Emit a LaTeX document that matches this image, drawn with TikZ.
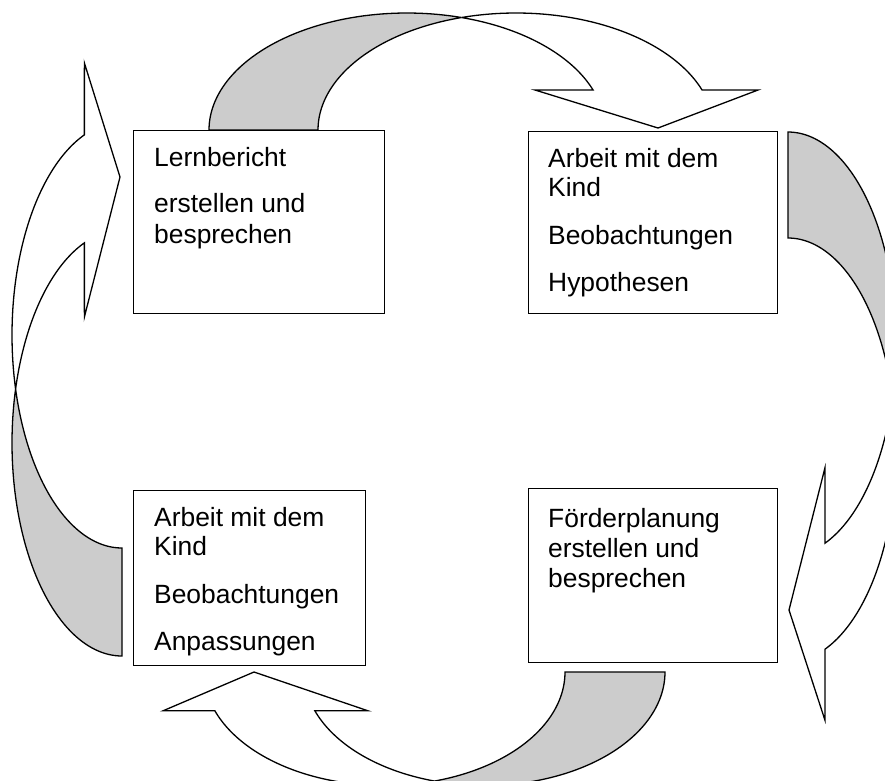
\documentclass[tikz,border=0pt]{standalone}
\usepackage{fontspec}
\setmainfont{Liberation Sans}
\definecolor{bandgrey}{RGB}{204,204,204}
\begin{document}
\begin{tikzpicture}[x=1pt,y=-1pt,
  back/.style={fill=bandgrey,draw=black,line width=1.3pt,line join=miter},
  front/.style={fill=white,draw=black,line width=1.3pt,line join=miter},
  boxstyle/.style={draw=black,fill=white,line width=1.3pt,anchor=north west,inner sep=0pt},
  lbl/.style={anchor=base west,inner sep=0pt,font=\fontsize{26.4}{30}\selectfont}]
\clip (0,0) rectangle (885,780);
% top arrow
\filldraw[back] plot[domain=180:286,samples=60] ({407+198*cos(\x)},{130+117*sin(\x)})
  -- plot[domain=254:180,samples=60] ({516+198*cos(\x)},{130+117*sin(\x)}) -- cycle;
\filldraw[front] plot[domain=254:340,samples=60] ({516+198*cos(\x)},{130+117*sin(\x)})
  -- (758,90) -- (658,128) -- (535,90)
  -- plot[domain=340:286,samples=60] ({407+198*cos(\x)},{130+117*sin(\x)}) -- cycle;
% right arrow
\filldraw[back] plot[domain=270:374.5,samples=60] ({788+108*cos(\x)},{344+212*sin(\x)})
  -- plot[domain=345.5:270,samples=60] ({788+108*cos(\x)},{450+212*sin(\x)}) -- cycle;
\filldraw[front] plot[domain=345.5:430,samples=60] ({788+108*cos(\x)},{450+212*sin(\x)})
  -- (824.9,720) -- (789,610) -- (824.9,468)
  -- plot[domain=430:374.5,samples=60] ({788+108*cos(\x)},{344+212*sin(\x)}) -- cycle;
% bottom arrow
\filldraw[back] plot[domain=0:106.1,samples=60] ({484.5+180.5*cos(\x)},{672+113.5*sin(\x)})
  -- plot[domain=73.9:0,samples=60] ({384.5+180.5*cos(\x)},{672+113.5*sin(\x)}) -- cycle;
\filldraw[front] plot[domain=73.9:160,samples=60] ({384.5+180.5*cos(\x)},{672+113.5*sin(\x)})
  -- (163,710.8) -- (254,672) -- (368,710.8)
  -- plot[domain=160:106.1,samples=60] ({484.5+180.5*cos(\x)},{672+113.5*sin(\x)}) -- cycle;
% left arrow
\filldraw[back] plot[domain=90:194.7,samples=60] ({122+110*cos(\x)},{443+213*sin(\x)})
  -- plot[domain=165.3:90,samples=60] ({122+110*cos(\x)},{335+213*sin(\x)}) -- cycle;
\filldraw[front] plot[domain=165.3:250,samples=60] ({122+110*cos(\x)},{335+213*sin(\x)})
  -- (84.4,63) -- (120,177) -- (84.4,317)
  -- plot[domain=250:194.7,samples=60] ({122+110*cos(\x)},{443+213*sin(\x)}) -- cycle;
% boxes
\node[boxstyle,minimum width=251pt,minimum height=183pt] (box1) at (133,130) {};
\node[boxstyle,minimum width=249pt,minimum height=182pt] (box2) at (528,131) {};
\node[boxstyle,minimum width=232pt,minimum height=175pt] (box3) at (133,490) {};
\node[boxstyle,minimum width=249pt,minimum height=174pt] (box4) at (528,488) {};
% texts
\node[lbl] (b1l1) at (154,166.7) {Lernbericht};
\node[lbl] (b1l2) at (154,212.7) {erstellen und};
\node[lbl] (b1l3) at (154,243.3) {besprechen};
\node[lbl] (b2l1) at (548,167.7) {Arbeit mit dem};
\node[lbl] (b2l2) at (548,196.7) {Kind};
\node[lbl] (b2l3) at (548,244.3) {Beobachtungen};
\node[lbl] (b2l4) at (548,291) {Hypothesen};
\node[lbl] (b3l1) at (154,526.7) {Arbeit mit dem};
\node[lbl] (b3l2) at (154,555.7) {Kind};
\node[lbl] (b3l3) at (154,603.3) {Beobachtungen};
\node[lbl] (b3l4) at (154,650) {Anpassungen};
\node[lbl] (b4l1) at (548,527) {Förderplanung};
\node[lbl] (b4l2) at (548,557) {erstellen und};
\node[lbl] (b4l3) at (548,587) {besprechen};
\end{tikzpicture}
\end{document}
